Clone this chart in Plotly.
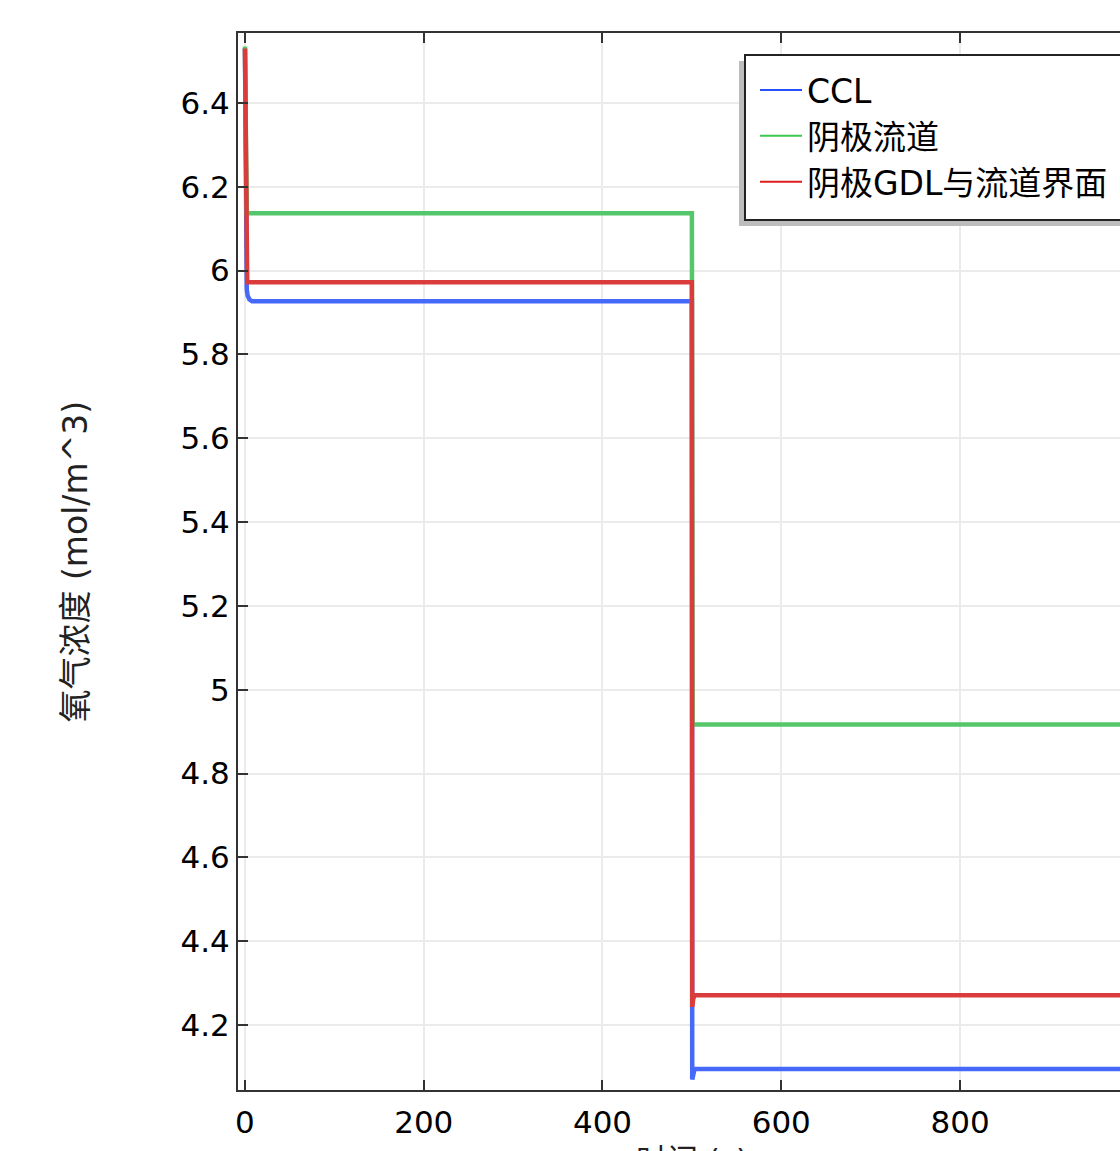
import plotly.graph_objects as go

# ---- data ----
t_ccl = [0, 0.5, 1, 2, 3, 5, 8, 500, 500.4, 501.5, 503, 1000]
c_ccl = [6.53, 6.25, 5.99, 5.955, 5.94, 5.931, 5.927, 5.927, 4.07, 4.088, 4.095, 4.095]

t_ch = [0, 0.8, 2, 500, 500.8, 1000]
c_ch = [6.535, 6.137, 6.137, 6.137, 4.917, 4.917]

t_gdl = [0, 1, 1.5, 2.5, 500, 500.4, 501.5, 503, 1000]
c_gdl = [6.53, 6.1, 5.98, 5.972, 5.972, 4.243, 4.262, 4.271, 4.271]

names = ["CCL", "阴极流道", "阴极GDL与流道界面"]
line_colors = ["rgb(70,105,250)", "rgb(85,198,105)", "rgb(218,60,60)"]
legend_colors = ["rgb(40,80,255)", "rgb(60,200,80)", "rgb(220,30,30)"]

y_tickvals = [4.2, 4.4, 4.6, 4.8, 5.0, 5.2, 5.4, 5.6, 5.8, 6.0, 6.2, 6.4]
y_ticktext = ["4.2", "4.4", "4.6", "4.8", "5", "5.2", "5.4", "5.6", "5.8", "6", "6.2", "6.4"]
x_tickvals = [0, 200, 400, 600, 800, 1000]
x_ticktext = ["0", "200", "400", "600", "800", "1000"]

y_title = "氧气浓度 (mol/m^3)"
x_title = "时间 (s)"

FONT = "DejaVu Sans, Noto Sans CJK SC"

fig = go.Figure()
for t, c, col in zip([t_ccl, t_ch, t_gdl], [c_ccl, c_ch, c_gdl], line_colors):
    fig.add_trace(go.Scatter(x=t, y=c, mode="lines", line=dict(color=col, width=4.5),
                             showlegend=False, hoverinfo="skip"))
for i, (n, col) in enumerate(zip(names, legend_colors)):
    fig.add_trace(go.Scatter(x=[None], y=[None], mode="lines", name=n,
                             line=dict(color=col, width=2), legendgroup=f"g{i}"))

W, H = 1120, 1151
L, R, T, B = 238, 0, 33, 61
pw = W - L - R
ph = H - T - B

def px_x(p):
    return (p - L) / pw

def px_y(p):
    return (H - B - p) / ph

axis_common = dict(showline=True, linecolor="#333", linewidth=2,
                   ticks="inside", ticklen=10, tickwidth=2, tickcolor="#333",
                   showgrid=True, gridcolor="#ebebeb", gridwidth=2, zeroline=False,
                   tickfont=dict(size=31, color="black"))

fig.update_layout(
    width=W, height=H,
    margin=dict(l=L, r=R, t=T, b=B, pad=0),
    paper_bgcolor="white", plot_bgcolor="white",
    font=dict(family=FONT, size=31, color="black"),
    xaxis=dict(range=[-7.8, 979.0], tickvals=x_tickvals, ticktext=x_ticktext,
               mirror="ticks", ticklabelstandoff=4, **axis_common),
    yaxis=dict(range=[4.045, 6.567], tickvals=y_tickvals, ticktext=y_ticktext,
               mirror=False, **axis_common),
    legend=dict(x=px_x(755), y=px_y(62), xanchor="left", yanchor="top",
                bgcolor="rgba(0,0,0,0)", borderwidth=0,
                font=dict(family=FONT, size=33, color="black"),
                tracegroupgap=0, itemwidth=42, traceorder="grouped"),
    shapes=[
        dict(type="rect", xref="paper", yref="paper",
             x0=px_x(739), x1=1.2, y0=px_y(226), y1=px_y(61),
             fillcolor="#bdbdbd", line=dict(width=0), layer="above"),
        dict(type="rect", xref="paper", yref="paper",
             x0=px_x(745), x1=1.2, y0=px_y(220), y1=px_y(55),
             fillcolor="white", line=dict(width=2, color="#222"), layer="above"),
    ],
    annotations=[
        dict(text=y_title, textangle=-90, xref="paper", yref="paper",
             x=px_x(75), y=0.5, xanchor="center", yanchor="middle", showarrow=False,
             font=dict(family=FONT, size=33, color="#222")),
        dict(text=x_title, xref="x", yref="paper", x=500, y=px_y(1140),
             xanchor="center", yanchor="top", showarrow=False,
             font=dict(family=FONT, size=31, color="#222")),
    ],
)

fig.write_html("out.html", config={"displayModeBar": False},
               post_script="document.body.style.margin='0';document.body.style.overflow='hidden';")
